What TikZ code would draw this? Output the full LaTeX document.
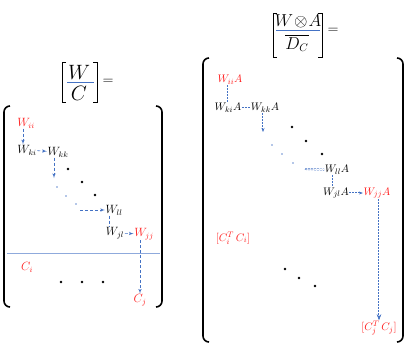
\documentclass[tikz,border=0pt]{standalone}
\usepackage{amsmath}
\usepackage{amssymb}
\usepackage{tikz}
\usetikzlibrary{arrows, arrows.meta, positioning, calc}
\definecolor{linkblue}{RGB}{68,114,196}
\definecolor{ruleblue}{RGB}{143,170,220}
\definecolor{termred}{RGB}{255,30,30}

\begin{document}
\begin{tikzpicture}[x=1pt, y=-1pt, >=latex',
    term/.style={inner sep=0.5pt, font=\fontsize{12}{14}\selectfont},
    hot/.style={term, text=termred},
    rterm/.style={inner sep=0.5pt, font=\fontsize{11}{13}\selectfont},
    rhot/.style={rterm, text=termred},
    link/.style={->, dash pattern=on 3pt off 2pt, linkblue, semithick},
    dlink/.style={-{Stealth[length=4pt]}, dash pattern=on 2pt off 1pt, draw=linkblue, double=white, double distance=0.9pt, line width=0.5pt},
    paren/.style={line width=1.6pt, rounded corners=6pt},
    brk/.style={line width=1pt},
    bdot/.style={circle, fill=black, inner sep=0pt, minimum size=2.6pt},
    ldot/.style={circle, fill=linkblue!80, inner sep=0pt, minimum size=1.6pt}]
    \useasboundingbox (0,0) rectangle (415,351);

    \node [font=\fontsize{20}{22}\selectfont, inner sep=0pt] (lw) at (79,72) {$W$};
    \node [font=\fontsize{20}{22}\selectfont, inner sep=0pt] (lc) at (79,93) {$C$};
    \draw [linkblue] (67,82) -- (94,82);
    \draw [brk] (66,62) -- (62,62) -- (62,102) -- (66,102);
    \draw [brk] (93,62) -- (97,62) -- (97,102) -- (93,102);
    \node [font=\fontsize{15}{17}\selectfont] (leq) at (108,82) {$=$};

    \draw [paren] (10,106) -- (4,106) -- (4,307) -- (10,307);
    \draw [paren] (156,106) -- (162,106) -- (162,307) -- (156,307);

    \node [hot] (wii) at (26,123) {$W_{ii}$};
    \node [term] (wki) at (27,150) {$W_{ki}$};
    \node [term] (wkk) at (58,152) {$W_{kk}$};
    \coordinate (dkk) at (54,178);
    \coordinate (dll) at (80,210);
    \node [term] (wll) at (114,210) {$W_{ll}$};
    \node [term] (wjl) at (115,233) {$W_{jl}$};
    \node [hot] (wjj) at (144,234) {$W_{jj}$};
    \node [hot] (ci) at (27,267) {$C_i$};
    \node [hot] (cj) at (140,300) {$C_j$};

    \draw [link] (wii.south -| 23,0) -- (wki.north -| 23,0);
    \draw [link] (wki) -- (wkk);
    \draw [link] (wkk.south -| dkk) -- (dkk);
    \draw [link] (dll) -- (wll);
    \draw [dash pattern=on 3pt off 2pt, linkblue, semithick] (wll.south -| 109,0) -- (wjl.north -| 109,0);
    \draw [link] (wjl) -- (wjj);
    \draw [link] (wjj.south -| cj) -- (cj);
    \draw [ruleblue] (7,253) -- (160,253);

    \node [bdot] at (68,169) {};
    \node [bdot] at (82,182) {};
    \node [bdot] at (95,195) {};
    \node [ldot] at (57,187) {};
    \node [ldot] at (66,196) {};
    \node [ldot] at (76,204) {};
    \node [bdot] at (61,282) {};
    \node [bdot] at (82,282) {};
    \node [bdot] at (103,282) {};

    \node [font=\fontsize{16}{18}\selectfont, inner sep=0pt] (rwa) at (298,21) {$W\!\otimes\! A$};
    \node [font=\fontsize{16}{18}\selectfont, inner sep=0pt] (rdc) at (297,43) {$\overline{D_C}$};
    \draw [linkblue] (276,30) -- (320,30);
    \draw [brk] (277,13) -- (273,13) -- (273,57) -- (277,57);
    \draw [brk] (318,13) -- (322,13) -- (322,57) -- (318,57);
    \node [font=\fontsize{14}{16}\selectfont] (req) at (333,31) {$=$};

    \draw [paren] (209,58) -- (203,58) -- (203,342) -- (209,342);
    \draw [paren] (397,58) -- (403,58) -- (403,342) -- (397,342);

    \node [rhot] (wiia) at (230,80) {$W_{ii}A$};
    \node [rterm] (wkia) at (228,108) {$W_{ki}A$};
    \node [rterm] (wkka) at (265,108) {$W_{kk}A$};
    \coordinate (dkka) at (263,132);
    \coordinate (dlla) at (305,169);
    \node [rterm] (wlla) at (337,170) {$W_{ll}A$};
    \node [rterm] (wjla) at (336,193) {$W_{jl}A$};
    \node [rhot] (wjja) at (377,193) {$W_{jj}A$};
    \node [rhot] (cia) at (233,238) {$[C_i^{T}\,C_i]$};
    \node [rhot] (cja) at (379,328) {$[C_j^{T}\,C_j]$};

    \draw [dlink, -] (wiia.south -| 228,0) -- (wkia.north -| 228,0);
    \draw [dlink, -] (wkia) -- (wkka);
    \draw [dlink] (wkka.south -| dkka) -- (dkka);
    \draw [dlink, -] (dlla) -- (wlla);
    \draw [dlink, -] (wlla.south -| 333,0) -- (wjla.north -| 333,0);
    \draw [dlink] (wjla) -- (wjja);
    \draw [dlink, -{Stealth[length=6pt]}] (wjja.south -| cja) -- (cja);

    \node [bdot] at (292,127) {};
    \node [bdot] at (306,141) {};
    \node [bdot] at (322,154) {};
    \node [ldot] at (272,145) {};
    \node [ldot] at (282,154) {};
    \node [ldot] at (293,163) {};
    \node [bdot] at (285,269) {};
    \node [bdot] at (299,278) {};
    \node [bdot] at (315,286) {};
\end{tikzpicture}
\end{document}
